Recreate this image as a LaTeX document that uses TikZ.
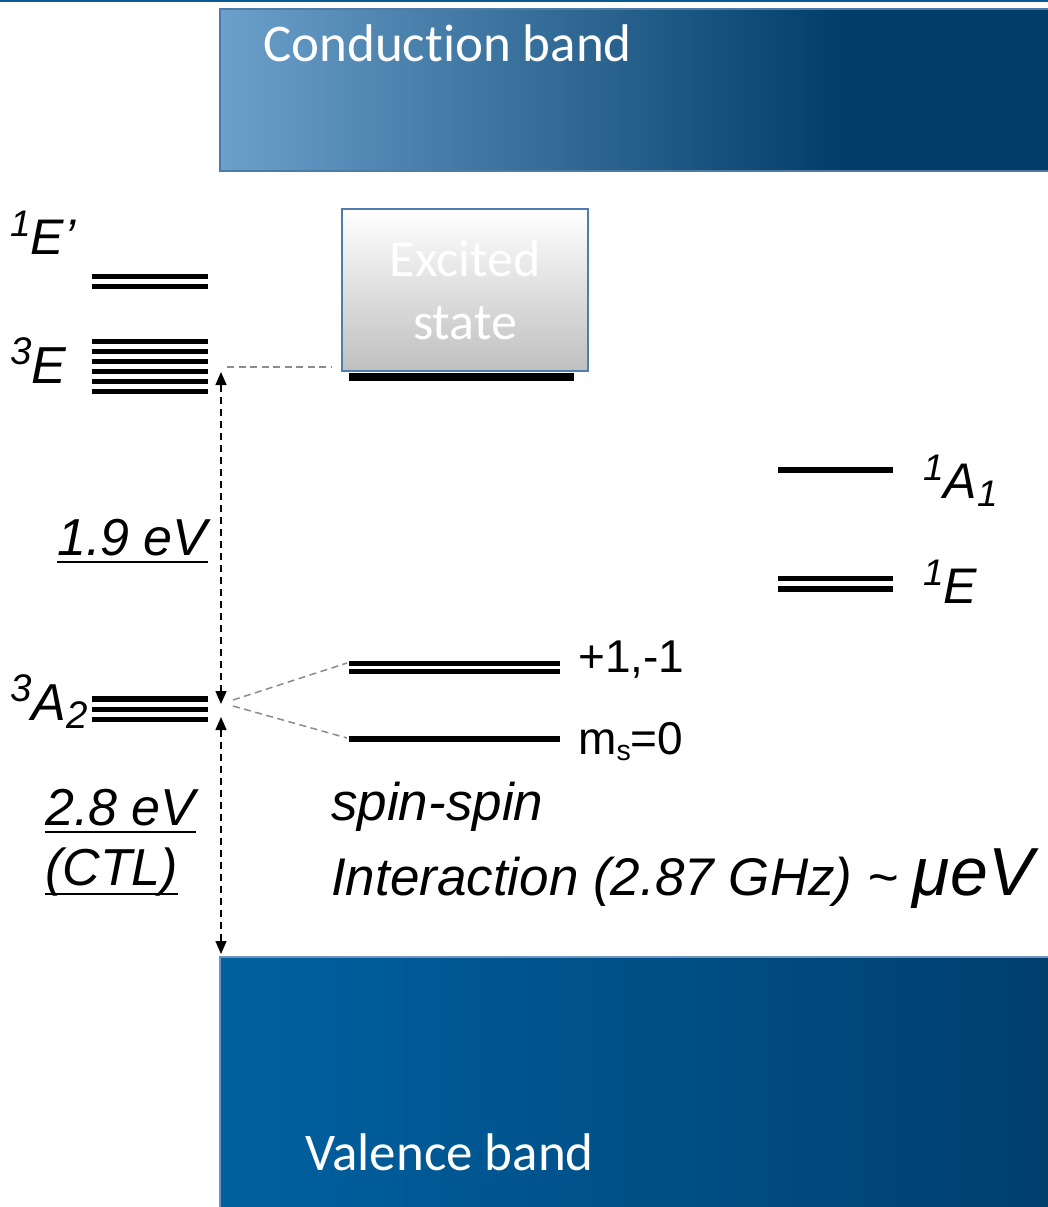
\documentclass[tikz,border=0pt]{standalone}
\usepackage{fontspec}
\setmainfont{Liberation Sans}
\newfontfamily\carfont[Ligatures=NoCommon]{Carlito}
\usetikzlibrary{arrows.meta}
\definecolor{cbL}{HTML}{6BA0CA}
\definecolor{cbR}{HTML}{003D69}
\definecolor{cbedge}{HTML}{4D7AA6}
\definecolor{vbL}{HTML}{0061A1}
\definecolor{vbR}{HTML}{003F6E}
\definecolor{vbedge}{HTML}{6F95BE}
\definecolor{topline}{HTML}{0B5A94}
\definecolor{boxedge}{HTML}{4F7DAE}
\definecolor{dgray}{HTML}{8C8C8C}
\newcommand{\supr}[1]{\raisebox{0.36em}{\scalebox{0.74}{#1}}}
\newcommand{\subr}[1]{\raisebox{-0.16em}{\scalebox{0.74}{#1}}}
\newcommand{\subm}[1]{\raisebox{-0.14em}{\scalebox{0.62}{#1}}}
\begin{document}
\begin{tikzpicture}[x=1pt,y=-1pt,
  lvl/.style={line width=#1, black},
  lvl/.default=5pt,
  bandtext/.style={text=white, inner sep=0pt, anchor=base west, font=\carfont\fontsize{53}{53}\selectfont},
  lbl/.style={inner sep=0pt, anchor=base west, text=black},
  itl/.style={lbl, font=\fontsize{#1}{#1}\selectfont\itshape},
  upl/.style={lbl, font=\fontsize{#1}{#1}\selectfont},
  gap/.style={dashed, dash pattern=on 7pt off 5pt, line width=1.5pt,
    {Triangle[length=13pt,width=11pt]}-{Triangle[length=13pt,width=11pt]}},
  graydash/.style={draw=dgray, line width=1.5pt, dash pattern=on 7pt off 4.5pt},
  uline/.style={line width=2pt}]
\useasboundingbox (0,0) rectangle (1048,1207);
\fill[white] (0,0) rectangle (1048,1207);
\fill[topline] (0,0) rectangle (1048,2.5);

% conduction band
\shade[left color=cbL, right color=cbR] (220,9) rectangle (845,171);
\fill[cbR] (845,9) rectangle (1048,171);
\draw[cbedge, line width=2pt] (1050,9) -- (220,9) -- (220,171) -- (1050,171);
\node[bandtext] (cbt) at (263,62) {Conduction band};

% valence band
\shade[left color=vbL, right color=vbR] (220,957) rectangle (1048,1207);
\draw[vbedge, line width=1.5pt] (220,1208) -- (220,957) -- (1049,957);
\node[bandtext] (vbt) at (305,1170) {Valence band};

% excited state box
\node[draw=boxedge, line width=2.5pt, top color=white, bottom color=gray!50!white,
  minimum width=246pt, minimum height=162pt, inner sep=0pt, text=white, align=center,
  font=\carfont\fontsize{52}{63}\selectfont] (exc) at (465,290) {Excited\\state};
\draw[lvl=8pt] (349,377) -- (574,377);

% levels left
\foreach \yy in {276,286} \draw[lvl] (92,\yy) -- (208,\yy);
\foreach \yy in {341.5,351.5,361.4,371.3,381.3,391.3} \draw[lvl] (92,\yy) -- (208,\yy);
\foreach \yy in {699,709.5,719.5} \draw[lvl=5.5pt] (92,\yy) -- (208,\yy);

% spin sublevels
\foreach \yy in {663,671.5} \draw[lvl] (349,\yy) -- (560,\yy);
\draw[lvl=6pt] (349,738.5) -- (560,738.5);

% singlets right
\draw[lvl=6pt] (778,470) -- (893,470);
\foreach \yy in {578.5,589} \draw[lvl=5.5pt] (778,\yy) -- (893,\yy);

% labels
\node[itl=50] (l1Ep) at (10,254) {\supr{1}E’};
\node[itl=52] (l3E) at (10,383) {\supr{3}E};
\node[itl=52] (l3A2) at (10,720) {\supr{3}A\subr{2}};
\node[itl=50] (l1A1) at (923,498) {\supr{1}A\subr{1}};
\node[itl=50] (l1E) at (923,603) {\supr{1}E};
\node[upl=46] (lpm) at (578,672) {+1,-1};
\node[upl=46] (lm0) at (578,754) {m\subm{s}=0};

\node[itl=52] (l19) at (57,555) {1.9 eV};
\draw[uline] ([yshift=-7pt]l19.base west) -- ([yshift=-7pt]l19.base east);
\node[itl=52] (l28) at (45,825) {2.8 eV};
\draw[uline] ([yshift=-7pt]l28.base west) -- ([yshift=-7pt]l28.base east);
\node[itl=52] (lctl) at (45,885) {(CTL)};
\draw[uline] ([yshift=-9pt]lctl.base west) -- ([yshift=-9pt]lctl.base east);

\node[itl=53] (lss) at (331,820) {spin-spin};
\node[itl=53] (lint) at (331,895) {Interaction (2.87 GHz) \textasciitilde{} {\fontsize{68}{68}\selectfont μeV}};

% arrows
\coordinate (e3) at (221,372);
\coordinate (a2t) at (221,704);
\coordinate (a2b) at (221,717);
\coordinate (vb) at (221,954);
\draw[gap] (e3) -- (a2t);
\draw[gap] (a2b) -- (vb);

% gray dashed connectors
\coordinate (e3r) at (227,367);
\coordinate (excl) at (332,367);
\coordinate (a2r1) at (233,700);
\coordinate (pm) at (347,663);
\coordinate (a2r2) at (233,706);
\coordinate (m0) at (347,738);
\draw[graydash] (e3r) -- (excl);
\draw[graydash] (a2r1) -- (pm);
\draw[graydash] (a2r2) -- (m0);
\end{tikzpicture}
\end{document}
